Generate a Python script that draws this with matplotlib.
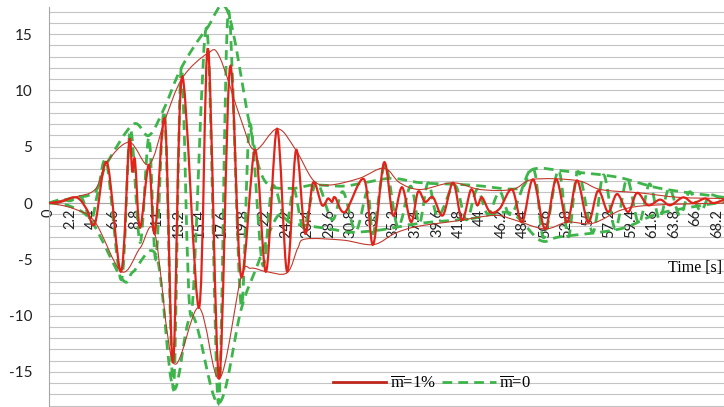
#!/usr/bin/env python3
"""Response time history, m=1% vs m=0, with envelopes (Excel style smoothed line chart)."""
import matplotlib
matplotlib.use('Agg')
import matplotlib.pyplot as plt
from matplotlib.path import Path
from matplotlib.patches import PathPatch

plt.rcParams['axes.unicode_minus'] = False
plt.rcParams['mathtext.fontset'] = 'custom'
plt.rcParams['mathtext.rm'] = 'Liberation Serif'
plt.rcParams['mathtext.it'] = 'Liberation Serif:italic'

# response, m = 1% (time [s], value)
red_t = [0, 1.2, 2.45, 3.16, 3.88, 4.7, 5.92, 7.35, 8.17, 8.5, 8.78, 9.29, 10.2, 10.8,
         11.84, 12.66, 13.58, 15.31, 16.23, 17.36, 18.48, 19.6, 21.03, 22.15, 23.28,
         24.3, 25.22, 26.14, 26.95, 27.87, 28.48, 28.89, 29.2, 30.22, 32.16, 33.08,
         34.2, 35.12, 36.04, 36.96, 37.67, 38.39, 39.2, 40.2, 41.25, 42.16, 43.08,
         43.7, 44.2, 45.02, 46.0, 47.27, 48.29, 49.41, 50.64, 51.76, 52.88, 53.9,
         55.03, 56.05, 57.07, 57.99, 59.11, 60.03, 61.15, 62.38, 63.4, 64.73, 65.75,
         66.97, 67.79, 68.9]
red_v = [0, 0.1, 0.5, 0.3, -0.6, -1.8, 3.6, -6.1, 5.4, 2.8, 3.8, -2.2, 3.4, -2.7,
         7.3, -14.2, 11.2, -9.3, 13.7, -15.6, 12.1, -6.5, 4.7, -6.1, 6.6,
         -6.1, 4.7, -2.7, 1.8, -0.2, 0.4, 0.1, 0.5, -0.8, 2.1, -3.7,
         3.6, -1.1, 1.4, -1.7, 1.0, 0.1, 0.5, -1.1, 1.8, -1.5, 1.2,
         -0.2, 0.5, -0.8, -0.5, 1.2, -1.7, 2.1, -2.3, 2.1, -1.7, 2.0,
         -1.7, 1.1, -0.8, 0.8, -0.8, 0.9, -0.2, 0.3, -0.2, 0.5, 0.0,
         0.4, 0.0, 0.3]

# envelopes, m = 1%
red_up_t = [0, 2.5, 4.7, 5.9, 8.2, 10.2, 11.8, 13.6, 16.2, 17.4, 19.6, 21.0, 23.3, 25.2,
            27.0, 28.7, 31.7, 34.2, 35.8, 37.9, 41.2, 44.0, 47.3, 49.4, 53.9, 56.3,
            60.3, 64.3, 68.9]
red_up_v = [0, 0.5, 1.2, 3.6, 5.4, 3.4, 7.3, 11.1, 13.3, 13.0, 7.4, 4.7, 6.6, 4.7,
            2.0, 1.6, 2.2, 3.1, 1.8, 1.2, 1.8, 1.2, 1.2, 2.1, 2.0, 1.2,
            0.9, 0.5, 0.4]
red_lo_t = [0, 2.5, 4.7, 7.4, 9.3, 10.8, 12.7, 15.3, 17.4, 19.6, 20.6, 22.2, 24.3, 25.4,
            26.2, 30.0, 33.1, 35.3, 37.5, 41.5, 45.5, 47.5, 50.6, 52.9, 55.5, 58.5,
            61.5, 68.9]
red_lo_v = [0, -0.5, -1.7, -6.1, -4.0, -2.7, -14.2, -9.3, -15.6, -6.6, -5.8, -6.1, -6.2, -4.0,
            -3.2, -3.3, -3.7, -2.7, -2.1, -1.6, -1.1, -1.5, -2.3, -1.7, -1.8, -0.6,
            -0.2, 0.0]

# response, m = 0
grn_t = [0, 1.2, 2.2, 3.3, 4.3, 5.0, 5.9, 7.4, 8.3, 9.3, 10.2, 10.9, 11.8, 12.7, 13.5,
         14.5, 16.1, 17.3, 18.3, 19.6, 20.5, 21.8, 22.8, 24.2, 25.0, 26.0, 27.3, 28.9,
         30.0, 31.3, 32.5, 33.1, 34.3, 35.6, 36.9, 37.8, 38.7, 39.7, 41.4, 42.6, 43.7,
         44.8, 46.0, 47.2, 49.4, 50.5, 52.0, 53.0, 54.0, 55.5, 56.6, 57.8, 59.0, 60.2,
         61.3, 62.3, 63.3, 64.4, 65.4, 66.5, 67.5, 68.9]
grn_v = [0, 0.3, 0.2, 0.5, -1.5, 1.0, 3.5, -6.8, 6.5, -3.5, 5.8, -5.0, 8.0, -16.5, 12.0,
         -10.0, 15.5, -17.8, 17.0, -9.0, 7.0, -5.5, 1.5, -1.7, 1.2, -2.2, 1.8, -1.5,
         1.0, -2.5, 1.0, -2.7, 3.4, -2.1, 1.5, -1.8, 1.8, -1.2, 1.6, -1.5, 1.2,
         -1.0, 1.0, -1.0, 3.1, -3.1, 2.9, -3.0, 2.8, -2.6, 2.5, -2.3, 2.1, -1.8,
         1.7, -1.4, 1.3, -1.1, 1.0, -0.7, 0.7, 0.2]

# envelopes, m = 0
grn_up_t = [0, 2.2, 4.7, 5.9, 8.6, 10.2, 11.8, 13.5, 16.1, 18.2, 20.5, 22.0, 24.6, 27.0,
            30.0, 32.2, 35.0, 38.0, 43.0, 48.0, 49.4, 53.0, 58.0, 62.4, 68.9]
grn_up_v = [0, 0.4, 1.0, 3.5, 7.0, 6.0, 8.5, 12.0, 15.5, 17.1, 6.9, 2.0, 1.3, 1.6,
            1.5, 1.8, 2.2, 1.8, 1.6, 1.3, 3.0, 2.8, 2.3, 1.3, 0.5]
grn_lo_t = [0, 2.2, 4.4, 7.5, 8.6, 11.0, 12.7, 14.6, 17.3, 19.6, 21.2, 23.3, 24.8, 28.7,
            30.7, 33.8, 37.9, 43.0, 47.1, 50.1, 52.2, 58.3, 62.4, 68.9]
grn_lo_v = [0, -0.3, -1.7, -6.8, -6.1, -4.8, -16.5, -10.0, -17.8, -9.5, -5.7, -1.2, -1.8, -2.3,
            -2.6, -2.4, -1.8, -1.4, -0.9, -3.3, -3.0, -2.3, -0.9, 0.1]

# category labels on the time axis
xtick_vals = [0, 2.2, 4.4, 6.6, 8.8, 11, 13.2, 15.4, 17.6, 19.8, 22, 24.2, 26.4, 28.6,
              30.8, 33, 35.2, 37.4, 39.6, 41.8, 44, 46.2, 48.4, 50.6, 52.8, 55, 57.2,
              59.4, 61.6, 63.8, 66, 68.2]
ytick_vals = [-15, -10, -5, 0, 5, 10, 15]

RED = '#e2231a'
RED_THIN = '#c0392b'
GREEN = '#3db54a'
GDASH = (3.5, 2.2)


def smooth_patch(ax, xs, ys, **kw):
    """Excel-like smoothed line: cubic bezier through the points (in display space)."""
    pts = ax.transData.transform(list(zip(xs, ys)))
    verts = [tuple(pts[0])]
    codes = [Path.MOVETO]
    n = len(pts)
    for i in range(n - 1):
        p0 = pts[i - 1] if i > 0 else pts[i]
        p1 = pts[i]
        p2 = pts[i + 1]
        p3 = pts[i + 2] if i + 2 < n else pts[i + 1]
        c1 = p1 + (p2 - p0) / 6.0
        c2 = p2 - (p3 - p1) / 6.0
        verts += [tuple(c1), tuple(c2), tuple(p2)]
        codes += [Path.CURVE4] * 3
    patch = PathPatch(Path(verts, codes), fill=False, transform=None, **kw)
    patch.set_clip_path(ax.patch)
    fig.add_artist(patch)
    return patch


fig = plt.figure(figsize=(7.24, 4.07), dpi=100)
ax = fig.add_axes([49 / 724, 0, 675 / 724, 400 / 407])

ax.set_xlim(0, 68.9)
ax.set_ylim(-18.13, 17.42)

# horizontal gridlines every unit
for g in range(-18, 18):
    ax.axhline(g, color='#c4c4c4', lw=0.8, zorder=0)

for s in ['top', 'right']:
    ax.spines[s].set_visible(False)
ax.spines['left'].set_color('#a6a6a6')
ax.spines['bottom'].set_position(('data', 0))
ax.spines['bottom'].set_color('#a6a6a6')

ax.set_yticks(ytick_vals)
ax.set_yticklabels([str(v) for v in ytick_vals], family='Lato', fontsize=11)
ax.tick_params(axis='y', length=0, pad=12, colors='#222222')
ax.set_xticks(xtick_vals)
ax.set_xticklabels([('%g' % v) for v in xtick_vals], rotation=90, family='Lato',
                   fontsize=10.5, va='top', ha='center')
ax.tick_params(axis='x', length=0, pad=4, colors='#222222')

fig.canvas.draw()

gls = (0, GDASH)
smooth_patch(ax, grn_up_t, grn_up_v, edgecolor=GREEN, lw=2, linestyle=gls, zorder=2)
smooth_patch(ax, grn_lo_t, grn_lo_v, edgecolor=GREEN, lw=2, linestyle=gls, zorder=2)
smooth_patch(ax, grn_t, grn_v, edgecolor=GREEN, lw=2, linestyle=gls, zorder=2)
smooth_patch(ax, red_up_t, red_up_v, edgecolor=RED_THIN, lw=0.8, zorder=3)
smooth_patch(ax, red_lo_t, red_lo_v, edgecolor=RED_THIN, lw=0.8, zorder=3)
smooth_patch(ax, red_t, red_v, edgecolor=RED, lw=1.6, zorder=4)

fig.text(0.997, 1 - 268 / 407, 'Time [s]', ha='right', va='center',
         family='Liberation Serif', fontsize=11.5)

h1, = ax.plot([], [], color='#c0281e', lw=2)
h2, = ax.plot([], [], color=GREEN, lw=2, dashes=GDASH)
fig.legend([h1, h2], [r'$\overline{\mathrm{m}}$=1%', r'$\overline{\mathrm{m}}$=0'],
           loc='center', bbox_to_anchor=(432 / 724, 1 - 384 / 407), ncol=2,
           frameon=False, handlelength=3.2, handletextpad=0.2, columnspacing=0.4,
           prop={'family': 'Liberation Serif', 'size': 12})

fig.savefig('out.png', dpi=100)
